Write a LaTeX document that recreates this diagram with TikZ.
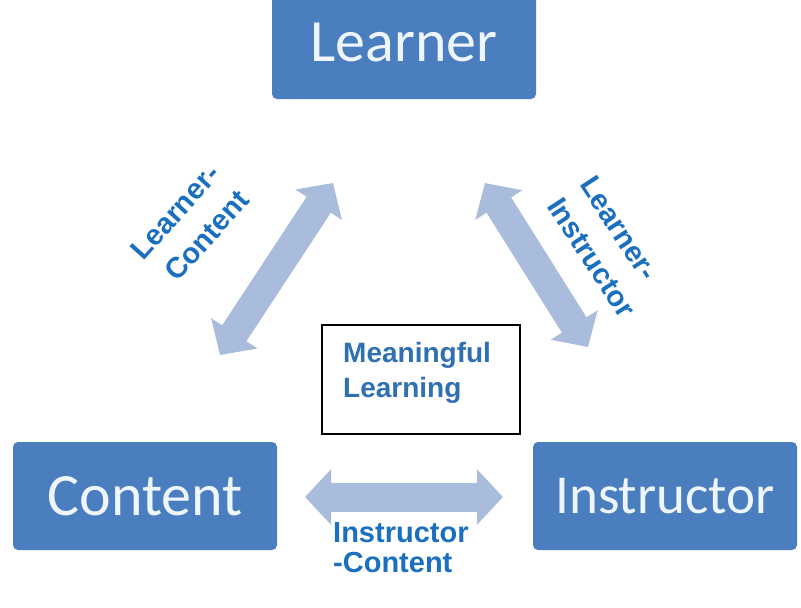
\documentclass[tikz,border=0pt]{standalone}
\usepackage{fontspec}
\setmainfont{Liberation Sans}
\newfontfamily\boxfont{Carlito}
\usetikzlibrary{arrows.meta}
\definecolor{boxblue}{HTML}{4A7EBF}
\definecolor{boxtext}{HTML}{EEF6FC}
\definecolor{linkblue}{HTML}{AABCDC}
\definecolor{tagblue}{HTML}{1B6FBF}
\definecolor{mlblue}{HTML}{2F70B0}
\begin{document}
\begin{tikzpicture}[x=1pt,y=-1pt,
		box/.style={fill=boxblue, text=boxtext, rounded corners=5pt, minimum width=264pt, minimum height=108pt, inner sep=0pt, font=\boxfont\fontsize{60}{72}\selectfont},
		link/.style={draw=linkblue, line width=29pt, {Triangle[length=26pt,width=54pt]}-{Triangle[length=26pt,width=54pt]}},
		tag/.style={text=tagblue, inner sep=0pt, font=\bfseries\fontsize{29}{39}\selectfont}]
		\useasboundingbox (0,0) rectangle (801,608);
		\fill[white] (0,0) rectangle (801,608);
		% the three boxes
		\node[box, minimum height=114pt] (learner) at (404,42) {Learner};
		\node[box] (content) at (145,496) {Content};
		\node[box, font=\boxfont\fontsize{55}{66}\selectfont] (instructor) at (665,496) {Instructor};
		% arrow ends
		\coordinate (lc-low) at (220,355);
		\coordinate (lc-up) at (333,183);
		\coordinate (li-up) at (485,183);
		\coordinate (li-low) at (588,347);
		\coordinate (ic-left) at (305,497);
		\coordinate (ic-right) at (503,497);
		\draw[link] (lc-low) -- (lc-up);
		\draw[link] (li-up) -- (li-low);
		\draw[link] (ic-left) -- (ic-right);
		% labels
		\node[tag, align=right, rotate=48] (lc-tag) at (190,225) {Learner-\\Content};
		\node[tag, align=left, rotate=-57] (li-tag) at (608,247) {Learner-\\Instructor};
		\node[tag, align=left, anchor=north west, font=\bfseries\fontsize{29}{30}\selectfont] (ic-tag) at (333,522) {Instructor\\-Content};
		% centre box
		\draw[line width=1.5pt] (322,325) rectangle (520,434);
		\node[text=mlblue, inner sep=0pt, align=left, anchor=north west, font=\bfseries\fontsize{28}{35}\selectfont] (ml) at (343,342) {Meaningful\\Learning};
	\end{tikzpicture}
\end{document}
